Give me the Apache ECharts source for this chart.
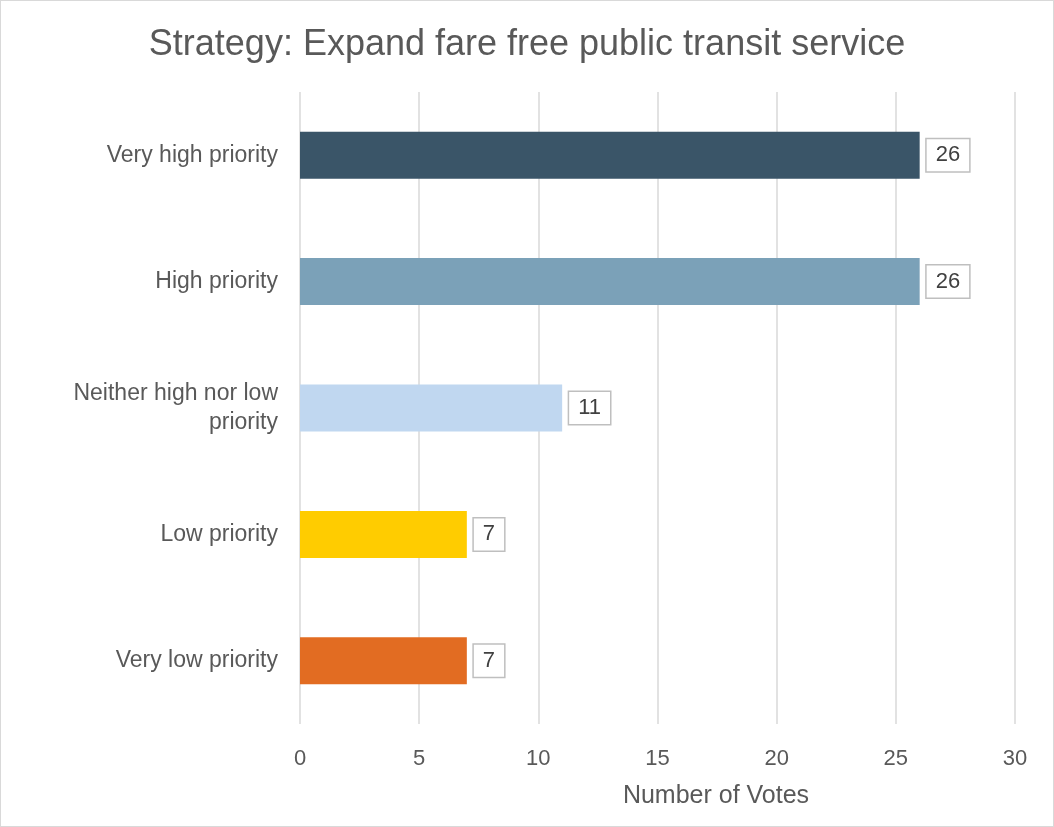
<!DOCTYPE html>
<html>
<head>
<meta charset="utf-8">
<script src="https://cdn.jsdelivr.net/npm/echarts@6/dist/echarts.min.js"></script>
<style>
html,body{margin:0;padding:0;background:#fff;}
#c{width:1052px;height:825px;border:1px solid #D9D9D9;}
</style>
</head>
<body>
<div id="c"></div>
<script>
const categories = ['Very high priority','High priority','Neither high nor low\npriority','Low priority','Very low priority'];
const values = [26, 26, 11, 7, 7];
const colors = ['#3A5568','#7BA1B8','#C0D7F0','#FFCC00','#E26C22'];
const xTicks = [0, 5, 10, 15, 20, 25, 30];

const chart = echarts.init(document.getElementById('c'));
chart.setOption({
  animation: false,
  title: {
    text: 'Strategy: Expand fare free public transit service',
    left: 'center', top: 21,
    textStyle: {fontFamily: 'Liberation Sans, Arial', fontSize: 36, fontWeight: 'normal', color: '#595959'}
  },
  grid: {left: 299, right: 38, top: 91, bottom: 102},
  xAxis: {
    type: 'value', min: xTicks[0], max: xTicks[xTicks.length-1], interval: 5,
    name: 'Number of Votes', nameLocation: 'middle', nameGap: 60,
    nameTextStyle: {fontFamily: 'Liberation Sans, Arial', fontSize: 25, color: '#595959', padding: [0,0,0,117]},
    axisLine: {show: false}, axisTick: {show: false},
    axisLabel: {fontFamily: 'Liberation Sans, Arial', fontSize: 22, color: '#595959', margin: 24},
    splitLine: {lineStyle: {color: '#D9D9D9', width: 1.5}}
  },
  yAxis: {
    type: 'category', data: categories, inverse: true,
    axisLine: {show: false}, axisTick: {show: false},
    axisLabel: {fontFamily: 'Liberation Sans, Arial', fontSize: 23, color: '#595959', margin: 22, lineHeight: 29, align: 'right'}
  },
  series: [{
    type: 'bar', barWidth: 47,
    data: values.map((v,i)=>({value: v, itemStyle: {color: colors[i]}})),
    label: {
      show: true, position: 'right', distance: 7,
      fontFamily: 'Liberation Sans, Arial', fontSize: 22, color: '#404040',
      backgroundColor: '#fff', borderColor: '#BFBFBF', borderWidth: 1.5,
      padding: [6, 9, 4, 9]
    }
  }]
});
</script>
</body>
</html>
